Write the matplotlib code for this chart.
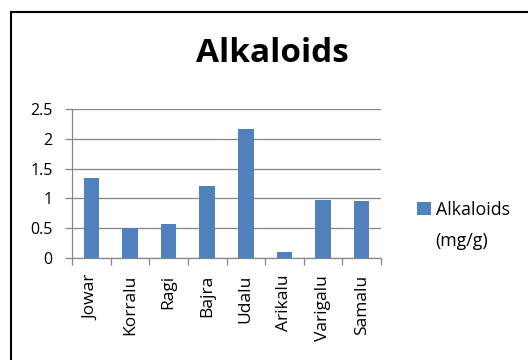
import matplotlib
matplotlib.use("Agg")
import matplotlib.pyplot as plt
from matplotlib.lines import Line2D
import numpy as np

categories = ["Jowar", "Korralu", "Ragi", "Bajra", "Udalu", "Arikalu", "Varigalu", "Samalu"]
values = [1.34, 0.51, 0.57, 1.20, 2.17, 0.10, 0.98, 0.95]
series_name = "Alkaloids"
series_unit = "(mg/g)"
title = "Alkaloids"
yticks = [0, 0.5, 1, 1.5, 2, 2.5]
ytick_labels = ["0", "0.5", "1", "1.5", "2", "2.5"]

plt.rcParams['font.family'] = ['Open Sans', 'DejaVu Sans']

fig = plt.figure(figsize=(5.28, 3.60), dpi=100)
ax = fig.add_axes([72/528, 1-258/360, (381-72)/528, (258-109)/360])

x = np.arange(len(categories))
bar_color = "#4F81BD"
bars = ax.bar(x, values, width=0.4, color=bar_color, zorder=3, label=series_name)

ax.set_xlim(-0.5, len(categories) - 0.5)
ax.set_ylim(0, 2.5)
ax.set_yticks(yticks)
ax.set_yticklabels(ytick_labels, fontsize=11.5)
ax.yaxis.grid(True, color="#868686", linewidth=0.9, zorder=0)
ax.set_xticks(x)
ax.set_xticklabels(categories, rotation=90, fontsize=12.5)
ax.set_xticks(np.arange(-0.5, len(categories)), minor=True)
ax.tick_params(axis='x', which='major', length=0, pad=12)
ax.tick_params(axis='x', which='minor', length=5, color="#868686", width=0.9)
ax.tick_params(axis='y', length=5, color="#868686", width=0.9, pad=9)

for s in ["top", "right"]:
    ax.spines[s].set_visible(False)
for s in ["left", "bottom"]:
    ax.spines[s].set_color("#868686")
    ax.spines[s].set_linewidth(0.9)

fig.text(272/528, 1-54/360, title, fontsize=24, fontweight="bold", ha="center", va="center")

leg = fig.legend(handles=[bars], labels=[series_name], loc="center left",
                 bbox_to_anchor=(412/528, 1-210/360), frameon=False, fontsize=12.8,
                 handlelength=0.75, handleheight=0.75, handletextpad=0.3,
                 borderaxespad=0, borderpad=0.3)
fig.text(435/528, 1-241/360, series_unit, fontsize=12.8, ha="left", va="center")

# outer chart frame (left and top edges visible)
fig.add_artist(Line2D([10.5/528, 10.5/528], [0, 1-12/360], transform=fig.transFigure, color="black", linewidth=1.5))
fig.add_artist(Line2D([10.5/528, 1], [1-12/360, 1-12/360], transform=fig.transFigure, color="black", linewidth=1.5))

fig.savefig("out.png", dpi=100)
